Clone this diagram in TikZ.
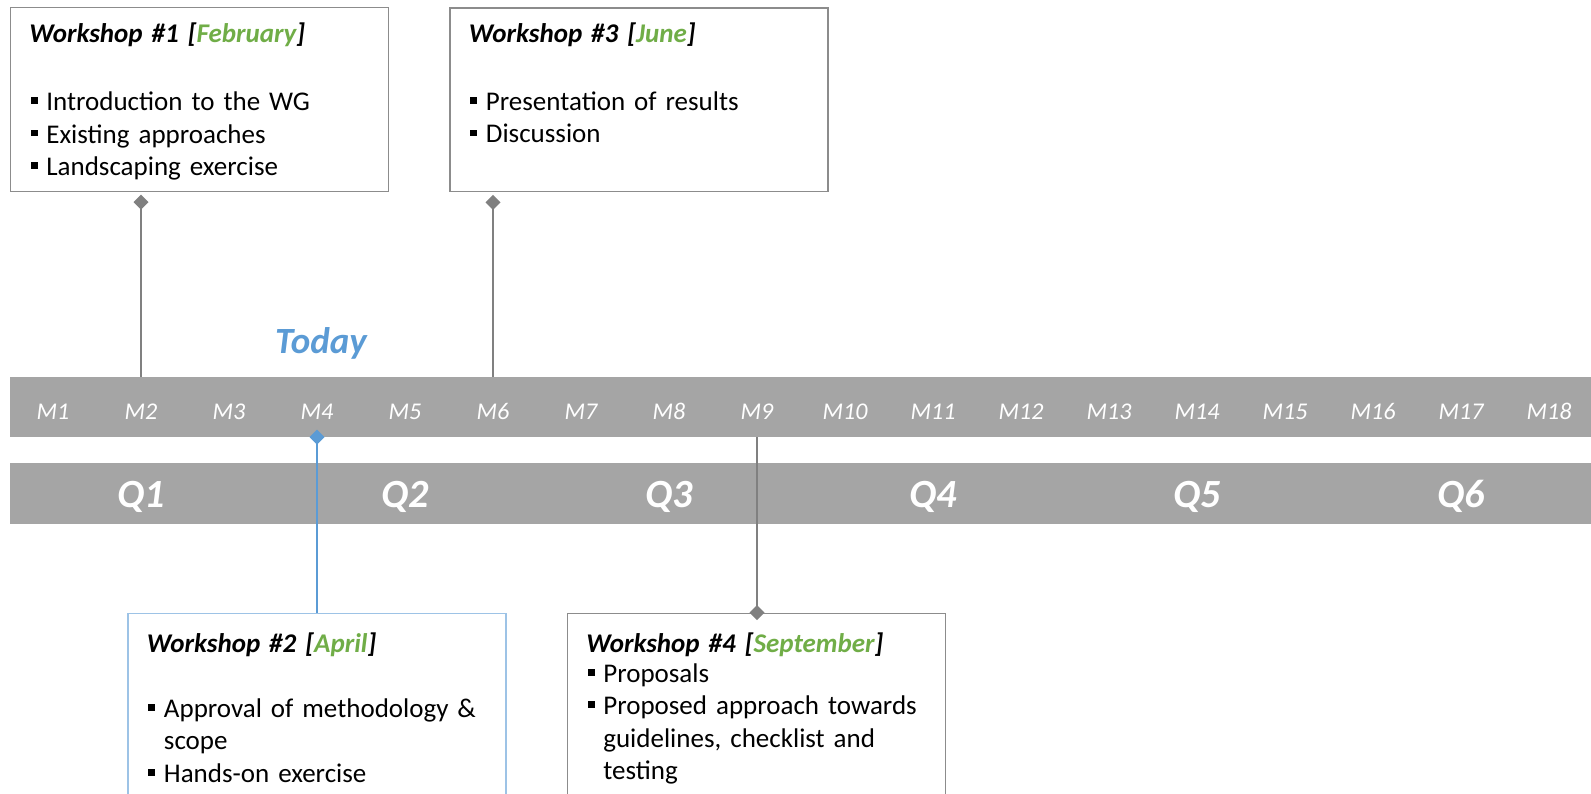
\documentclass[tikz,border=0pt]{standalone}
\usepackage{fontspec}
\setmainfont{Carlito}
\usepackage{xcolor}
\usetikzlibrary{arrows.meta, calc, positioning}

\definecolor{bargray}{HTML}{A5A5A5}
\definecolor{linegray}{HTML}{808080}
\definecolor{boxgray}{HTML}{8C8C8C}
\definecolor{todayblue}{HTML}{5B9BD5}
\definecolor{boxblue}{HTML}{9DC3E6}
\definecolor{monthgreen}{HTML}{70AD47}

\newcommand{\wstitle}[2]{{\bfseries\itshape Workshop \##1 [\textcolor{monthgreen}{#2}]}\par}
\newcommand{\wsitem}[1]{\par\hangindent=17pt\hangafter=1\noindent
  \makebox[17pt][l]{\hspace{1.5pt}\rule[6.7pt]{6.7pt}{6.7pt}}#1\par}

\begin{document}
\begin{tikzpicture}[x=1pt, y=-1pt,
  wsbox/.style={draw=boxgray, line width=1.3pt, anchor=north west,
                text width=340pt, inner xsep=19pt, inner ysep=0pt, align=left,
                font=\fontsize{27pt}{32.5pt}\selectfont},
  bar/.style={fill=bargray, draw=none, anchor=north west, inner sep=0pt,
              minimum width=1590pt},
  mlabel/.style={anchor=base, text=white,
                 font=\fontsize{24pt}{28pt}\selectfont\itshape},
  qlabel/.style={anchor=base, text=white,
                 font=\fontsize{40pt}{48pt}\selectfont\bfseries\itshape},
  today/.style={anchor=base, text=todayblue,
                font=\fontsize{37pt}{42pt}\selectfont\bfseries\itshape},
  conn/.style={draw=linegray, line width=2.8pt},
  wstip/.tip={Diamond[length=15pt, width=15pt]}
]
\useasboundingbox (0,0) rectangle (1591,793);
\clip (0,0) rectangle (1591,793);

% timeline bars
\node[bar, minimum height=60.2pt] (monthbar) at (10,376.5) {};
\node[bar, minimum height=60.6pt] (qbar) at (10,462.7) {};

\foreach \i in {1,...,18}
  \node[mlabel] (m\i) at ({53+(\i-1)*88},419) {M\i};
\foreach \q in {1,...,6}
  \node[qlabel] (q\q) at ({141+(\q-1)*264},507) {Q\q};

\node[today] (now) at (321,353.3) {Today};

% workshops
\node[wsbox, text height=35pt, text depth=148.7pt] (w1) at (9.7,7) {%
  \wstitle{1}{February}\vspace{35.5pt}
  \wsitem{Introduction to the WG}
  \wsitem{Existing approaches}
  \wsitem{Landscaping exercise}};
\node[wsbox, text height=34.5pt, text depth=149.3pt] (w3) at (449.3,7.3) {%
  \wstitle{3}{June}\vspace{35.5pt}
  \wsitem{Presentation of results}
  \wsitem{Discussion}};
\node[wsbox, draw=boxblue, text height=39pt, text depth=200pt] (w2) at (127.3,612.7) {%
  \wstitle{2}{April}\vspace{32.5pt}
  \wsitem{Approval of methodology \&\newline scope}
  \wsitem{Hands-on exercise}};
\node[wsbox, text height=39pt, text depth=200pt] (w4) at (566.7,612.7) {%
  \wstitle{4}{September}\vspace{-2.5pt}
  \wsitem{Proposals}
  \wsitem{Proposed approach towards\newline guidelines, checklist and\newline testing}};

% connectors
\draw[conn, -wstip] (m2 |- monthbar.north) -- ($(m2 |- w1.south)+(0,2.5)$);
\draw[conn, -wstip] (m6 |- monthbar.north) -- ($(m6 |- w3.south)+(0,2.5)$);
\draw[conn, draw=todayblue, line width=2.3pt, wstip-] ($(m4 |- monthbar.south)+(0,-7.5)$) -- (m4 |- w2.north);
\draw[conn, -wstip] (m9 |- monthbar.south) -- ($(m9 |- w4.north)+(0,7.5)$);
\end{tikzpicture}
\end{document}
